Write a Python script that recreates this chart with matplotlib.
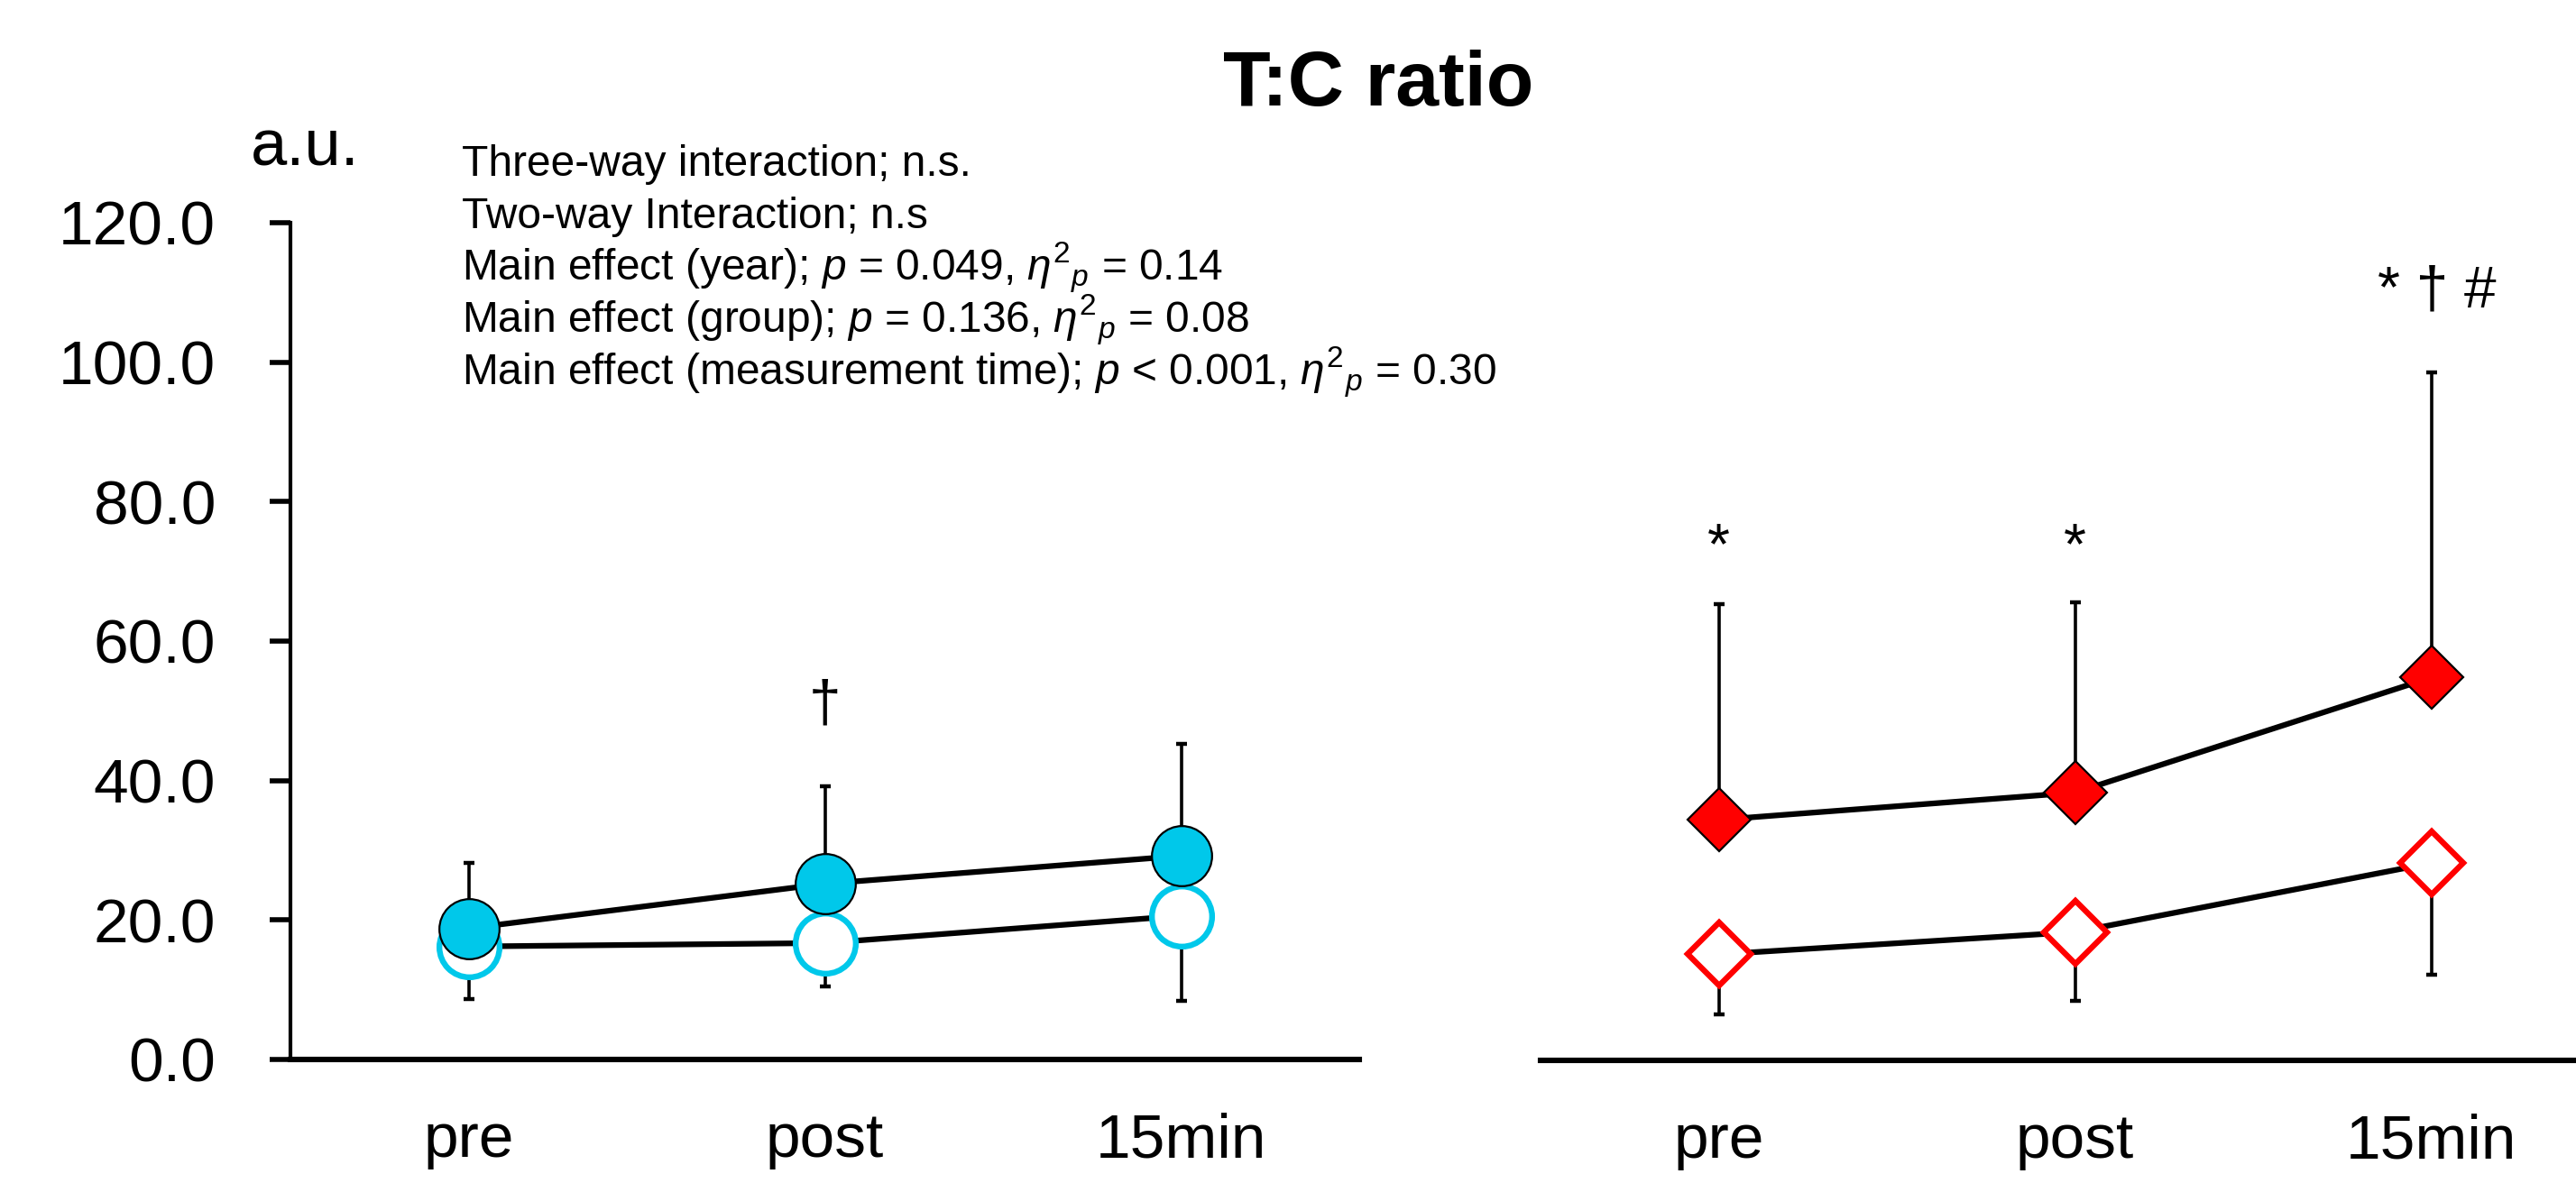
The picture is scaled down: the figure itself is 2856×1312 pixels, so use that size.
import matplotlib
matplotlib.use("Agg")
import matplotlib.pyplot as plt

plt.rcParams['font.family'] = ['Liberation Sans', 'DejaVu Sans']
plt.rcParams['mathtext.fontset'] = 'custom'
plt.rcParams['mathtext.rm'] = 'Liberation Sans'
plt.rcParams['mathtext.it'] = 'Liberation Sans:italic'

times = ['pre', 'post', '15min']
yticks = [0, 20, 40, 60, 80, 100, 120]

# left panel (circles)
left_filled = [18.8, 25.2, 29.2]
left_filled_sd = [9.4, 14.0, 16.1]
left_open = [16.2, 16.7, 20.6]
left_open_sd = [7.5, 6.2, 12.2]

# right panel (diamonds)
right_filled = [34.5, 38.4, 54.9]
right_filled_sd = [30.9, 27.3, 43.7]
right_open = [15.2, 18.4, 28.3]
right_open_sd = [8.6, 9.9, 16.0]

stats_lines = [
    "Three-way interaction; n.s.",
    "Two-way Interaction; n.s",
    r"Main effect (year); $p$ = 0.049, $\eta^{2}{}_{p}$ = 0.14",
    r"Main effect (group); $p$ = 0.136, $\eta^{2}{}_{p}$ = 0.08",
    r"Main effect (measurement time); $p$ < 0.001, $\eta^{2}{}_{p}$ = 0.30",
]

cyan = '#00C8EA'
red = '#FF0000'

W, H = 2856, 1312
fig = plt.figure(figsize=(W / 100, H / 100), dpi=100)
axw = 3 * 395 / W
axh = (1175 - 247) / H
ax1 = fig.add_axes([322 / W, 1 - 1175 / H, axw, axh])
ax2 = fig.add_axes([1708 / W, 1 - 1176 / H, axw, axh])

x = list(range(len(times)))


def panel(ax, filled, filled_sd, opn, opn_sd, marker, ms, col):
    zeros = [0] * len(x)
    ax.errorbar(x, filled, yerr=[zeros, filled_sd], fmt='none', ecolor='k',
                elinewidth=2.6, capsize=4.5, capthick=3.2, zorder=1, clip_on=False)
    ax.errorbar(x, opn, yerr=[opn_sd, zeros], fmt='none', ecolor='k',
                elinewidth=2.6, capsize=4.5, capthick=3.2, zorder=1, clip_on=False)
    ax.plot(x, opn, color='k', lw=4.5, zorder=2, clip_on=False)
    ax.plot(x, filled, color='k', lw=4.5, zorder=2, clip_on=False)
    ax.plot(x, opn, ls='none', marker=marker, ms=ms, mfc='white', mec=col,
            mew=4.6, zorder=3, clip_on=False)
    ax.plot(x, filled, ls='none', marker=marker, ms=ms, mfc=col, mec='k',
            mew=1.6, zorder=4, clip_on=False)
    ax.set_xlim(-0.5, 2.5)
    ax.set_ylim(0, 120)
    ax.set_xticks(x)
    ax.set_xticklabels(times, fontsize=50)
    ax.tick_params(axis='x', length=0, pad=42)
    for s in ['top', 'right']:
        ax.spines[s].set_visible(False)
    ax.spines['bottom'].set_linewidth(4.4)


panel(ax1, left_filled, left_filled_sd, left_open, left_open_sd, 'o', 48, cyan)
panel(ax2, right_filled, right_filled_sd, right_open, right_open_sd, 'D', 35.5, red)

ax1.set_yticks(yticks)
ax1.set_yticklabels([f"{v:.1f}" for v in yticks], fontsize=50)
ax1.tick_params(axis='y', length=16.5, width=4.0, pad=43, direction='out')
ax1.spines['left'].set_linewidth(3.0)

ax2.spines['left'].set_visible(False)
ax2.set_yticks([])

# significance marks
ax1.text(1, 48.5, '†', fontsize=46, ha='center', va='baseline')
ax2.text(0, 71.2, '*', fontsize=46, ha='center', va='baseline')
ax2.text(1, 71.2, '*', fontsize=46, ha='center', va='baseline')
ax2.text(2.015, 108.1, '* † #', fontsize=46, ha='center', va='baseline', clip_on=False)

fig.text(338 / W, 1 - 183 / H, 'a.u.', fontsize=52, ha='center', va='baseline')
fig.text(1528 / W, 1 - 117 / H, 'T:C ratio', fontsize=62, fontweight='bold',
         ha='center', va='baseline')

baselines = [195, 253, 310, 368, 426]
for line, b in zip(stats_lines, baselines):
    fig.text(512 / W, 1 - b / H, line, fontsize=34.5, ha='left', va='baseline')

fig.savefig('out.png', dpi=100)
